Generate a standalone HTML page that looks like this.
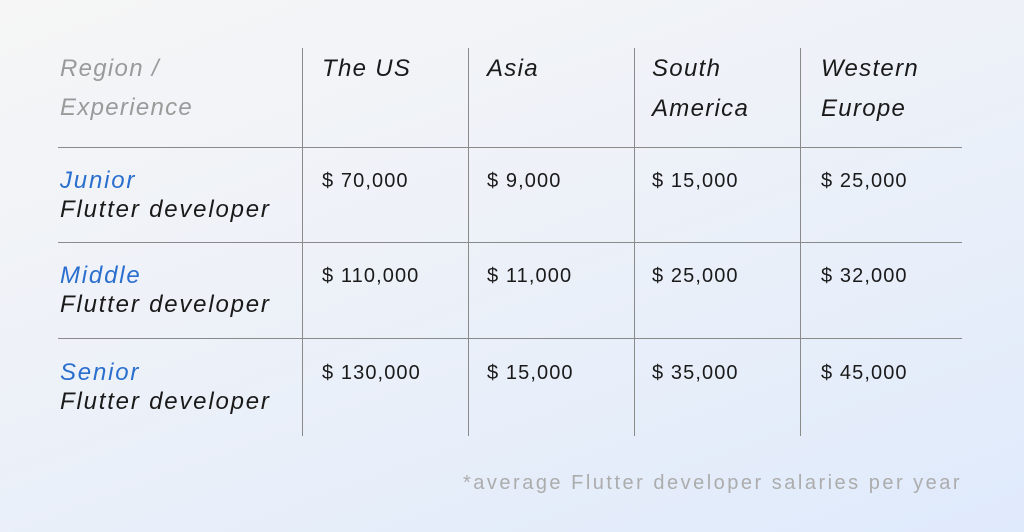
<!DOCTYPE html>
<html><head><meta charset="utf-8"><style>
body{margin:0;width:1024px;height:532px;overflow:hidden;font-family:"Liberation Sans",sans-serif;}
#bg{position:absolute;left:0;top:0;width:1024px;height:532px;background:linear-gradient(160deg,#f6f6f6 0%,#edf1f8 45%,#dfeafc 100%);}
.t{position:absolute;white-space:nowrap;line-height:1;}
.h{font-style:italic;font-size:24px;color:#1a1a1a;letter-spacing:1.3px;}
.g{color:#9a9a9a;}
.b{color:#2a6fce;}
.lab{letter-spacing:1.8px;}
.v{font-size:20px;color:#1a1a1a;letter-spacing:1.1px;}
.hl{position:absolute;height:1px;background:#8a8a8a;left:58px;width:904px;}
.vl{position:absolute;width:1px;background:#8a8a8a;top:48px;height:388px;}
</style></head><body>
<div id="bg"></div>
<div class="hl" style="top:147px"></div>
<div class="hl" style="top:242px"></div>
<div class="hl" style="top:338px"></div>
<div class="vl" style="left:302px"></div>
<div class="vl" style="left:468px"></div>
<div class="vl" style="left:634px"></div>
<div class="vl" style="left:800px"></div>

<div class="t h g" style="left:60px;top:57px">Region /</div>
<div class="t h g" style="left:60px;top:96px">Experience</div>
<div class="t h" style="left:322px;top:57px">The US</div>
<div class="t h" style="left:487px;top:57px">Asia</div>
<div class="t h" style="left:652px;top:57px">South<br><span style="display:inline-block;margin-top:16px">America</span></div>
<div class="t h" style="left:821px;top:57px">Western<br><span style="display:inline-block;margin-top:16px">Europe</span></div>

<div class="t h lab" style="left:60px;top:166px;line-height:29px"><span class="b">Junior</span><br>Flutter developer</div>
<div class="t h lab" style="left:60px;top:261px;line-height:29px"><span class="b">Middle</span><br>Flutter developer</div>
<div class="t h lab" style="left:60px;top:358px;line-height:29px"><span class="b">Senior</span><br>Flutter developer</div>

<div class="t v" style="left:322px;top:171px">$ 70,000</div>
<div class="t v" style="left:487px;top:171px">$ 9,000</div>
<div class="t v" style="left:652px;top:171px">$ 15,000</div>
<div class="t v" style="left:821px;top:171px">$ 25,000</div>
<div class="t v" style="left:322px;top:266px">$ 110,000</div>
<div class="t v" style="left:487px;top:266px">$ 11,000</div>
<div class="t v" style="left:652px;top:266px">$ 25,000</div>
<div class="t v" style="left:821px;top:266px">$ 32,000</div>
<div class="t v" style="left:322px;top:363px">$ 130,000</div>
<div class="t v" style="left:487px;top:363px">$ 15,000</div>
<div class="t v" style="left:652px;top:363px">$ 35,000</div>
<div class="t v" style="left:821px;top:363px">$ 45,000</div>

<div class="t" style="left:463px;top:473px;font-size:20px;color:#acacac;letter-spacing:2.5px">*average Flutter developer salaries per year</div>
</body></html>
